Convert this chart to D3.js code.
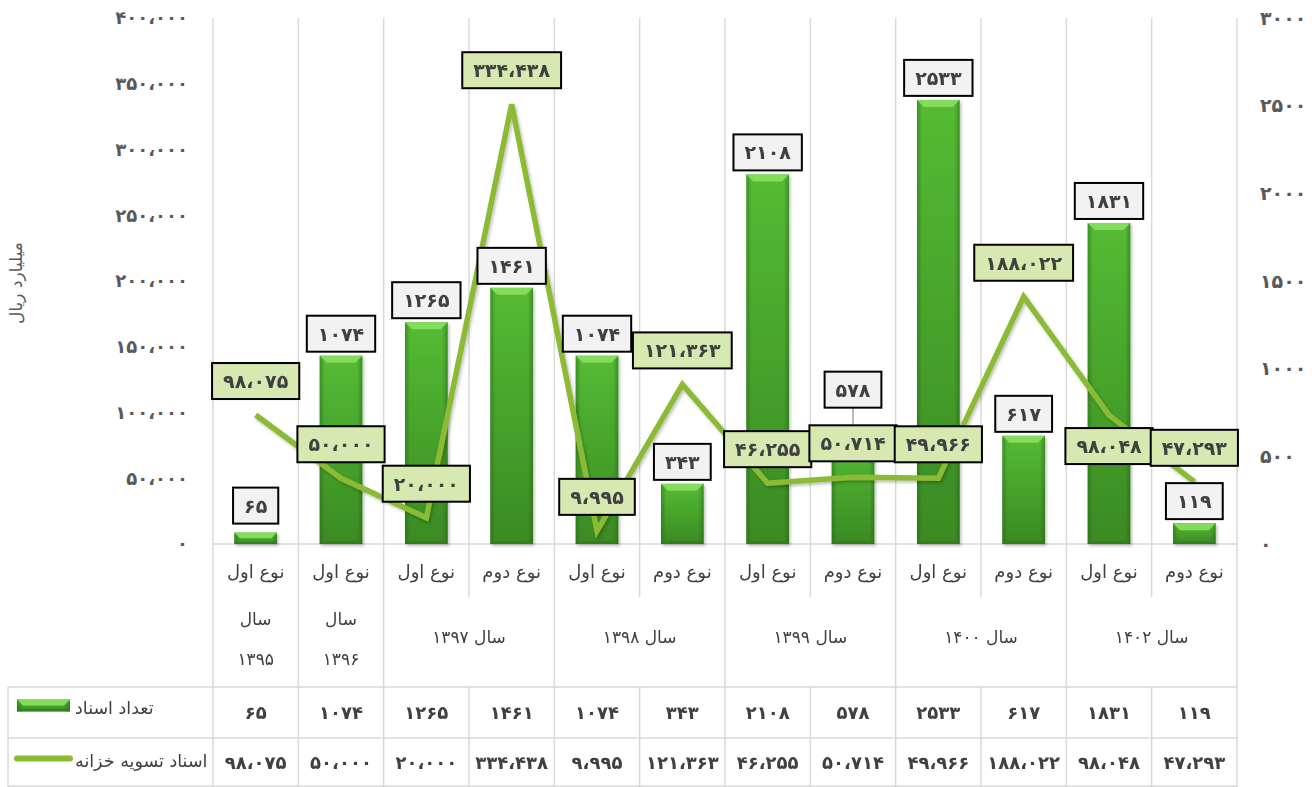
<!DOCTYPE html>
<html>
<head>
<meta charset="utf-8">
<script src="https://cdn.jsdelivr.net/npm/d3@7"></script>
<style>
  body { margin: 0; background: #fff; }
  text { font-family: "DejaVu Sans", sans-serif; }
</style>
</head>
<body>
<div id="chart"></div>
<script>
// chart data
let types = ['نوع اول', 'نوع اول', 'نوع اول', 'نوع دوم', 'نوع اول', 'نوع دوم',
             'نوع اول', 'نوع دوم', 'نوع اول', 'نوع دوم', 'نوع اول', 'نوع دوم']
let years = ['1395', '1396', '1397', '1397', '1398', '1398',
             '1399', '1399', '1400', '1400', '1402', '1402']
let counts = [65, 1074, 1265, 1461, 1074, 343, 2108, 578, 2533, 617, 1831, 119]
let amounts = [98075, 50000, 20000, 334438, 9995, 121363, 46255, 50714, 49966, 188022, 98048, 47293]
let leftTicks = [0, 50000, 100000, 150000, 200000, 250000, 300000, 350000, 400000]
let rightTicks = [0, 500, 1000, 1500, 2000, 2500, 3000]
let seriesNames = ['تعداد اسناد', 'اسناد تسویه خزانه']
let axisTitle = 'میلیارد ریال'

// layout
let width = 1316, height = 787
let plotLeft = 213, plotRight = 1237, plotTop = 18, plotBottom = 544
let catBottom = 597, yearBottom = 687, row1Bottom = 738, tableBottom = 787, tableLeft = 8
let gridColor = '#d9d9d9'
let textColor = '#404040'
let lineColor = '#8bba34'
// manual label nudges (from the reference)
let barLabelDy = { 0: -27, 7: -53 }
let lineLabelDy = { 10: 31 }

function fa(s) {
  return String(s).replace(/\d/g, d => '۰۱۲۳۴۵۶۷۸۹'[d]).replace(/,/g, '،')
}
let fmt = d3.format(',')

let svg = d3.select('#chart').append('svg')
  .attr('width', width)
  .attr('height', height)

let defs = svg.append('defs')
let grad = defs.append('linearGradient').attr('id', 'barGrad')
  .attr('x1', 0).attr('y1', 0).attr('x2', 0).attr('y2', 1)
grad.append('stop').attr('offset', '0%').attr('stop-color', '#55bb34')
grad.append('stop').attr('offset', '100%').attr('stop-color', '#3a8a23')
let side = defs.append('linearGradient').attr('id', 'barSide')
  .attr('x1', 0).attr('y1', 0).attr('x2', 1).attr('y2', 0)
side.append('stop').attr('offset', '0%').attr('stop-color', '#1f5c12').attr('stop-opacity', 0.45)
side.append('stop').attr('offset', '12%').attr('stop-color', '#1f5c12').attr('stop-opacity', 0)
side.append('stop').attr('offset', '88%').attr('stop-color', '#1f5c12').attr('stop-opacity', 0)
side.append('stop').attr('offset', '100%').attr('stop-color', '#1f5c12').attr('stop-opacity', 0.45)
let shadow = defs.append('filter').attr('id', 'shadow')
  .attr('x', '-10%').attr('y', '-10%').attr('width', '120%').attr('height', '130%')
shadow.append('feDropShadow').attr('dx', 1.5).attr('dy', 2).attr('stdDeviation', 1.5)
  .attr('flood-color', '#000').attr('flood-opacity', 0.25)

let x = d3.scaleBand().domain(d3.range(types.length)).range([plotLeft, plotRight])
let yL = d3.scaleLinear().domain([0, 400000]).range([plotBottom, plotTop])
let yR = d3.scaleLinear().domain([0, 3000]).range([plotBottom, plotTop])
let cx = i => x(i) + x.bandwidth() / 2
let barW = x.bandwidth() * 0.5

// vertical grid lines
let bounds = d3.range(types.length + 1).map(i => i < types.length ? x(i) : plotRight)
svg.append('g').selectAll('line').data(bounds).join('line')
  .attr('x1', d => d).attr('x2', d => d)
  .attr('y1', plotTop).attr('y2', plotBottom)
  .attr('stroke', gridColor).attr('stroke-width', 1.5)
svg.append('line')
  .attr('x1', plotLeft).attr('x2', plotRight)
  .attr('y1', plotBottom).attr('y2', plotBottom)
  .attr('stroke', gridColor).attr('stroke-width', 1.5)

// axes
let leftAxis = svg.append('g')
  .attr('transform', `translate(${plotLeft - 22},0)`)
  .call(d3.axisLeft(yL).tickValues(leftTicks).tickSize(0).tickFormat(d => fa(fmt(d))))
let rightAxis = svg.append('g')
  .attr('transform', `translate(${plotRight + 20},0)`)
  .call(d3.axisRight(yR).tickValues(rightTicks).tickSize(0).tickFormat(d => fa(d)))
;[leftAxis, rightAxis].forEach(a => {
  a.select('.domain').remove()
  a.selectAll('text')
    .attr('font-size', 19).attr('font-weight', 'bold')
    .attr('fill', '#595959')
    .style('font-family', '"DejaVu Sans", sans-serif')
})
leftAxis.selectAll('text').attr('font-size', 18)

svg.append('text')
  .attr('transform', `translate(22,${(plotTop + plotBottom) / 2 + 2}) rotate(-90)`)
  .attr('text-anchor', 'middle')
  .attr('direction', 'rtl')
  .attr('font-size', 17)
  .attr('fill', '#595959')
  .text(axisTitle)

// bars
function drawBar(g, x0, y0, w, h) {
  g.append('rect').attr('x', x0).attr('y', y0).attr('width', w).attr('height', h)
    .attr('fill', 'url(#barGrad)')
  g.append('rect').attr('x', x0).attr('y', y0).attr('width', w).attr('height', h)
    .attr('fill', 'url(#barSide)')
  let b = Math.min(7, h / 2)
  g.append('path')
    .attr('d', `M${x0},${y0}L${x0 + w},${y0}L${x0 + w - b},${y0 + b}L${x0 + b},${y0 + b}Z`)
    .attr('fill', '#84db5c')
  g.append('path')
    .attr('d', `M${x0},${y0 + h}L${x0 + w},${y0 + h}L${x0 + w - b},${y0 + h - b * 0.4}L${x0 + b},${y0 + h - b * 0.4}Z`)
    .attr('fill', '#2d7019').attr('opacity', 0.5)
}
let barG = svg.append('g').attr('filter', 'url(#shadow)')
counts.forEach((c, i) => {
  drawBar(barG.append('g'), cx(i) - barW / 2, yR(c), barW, plotBottom - yR(c))
})

// line
svg.append('path')
  .datum(amounts)
  .attr('d', d3.line().x((d, i) => cx(i)).y(d => yL(d)))
  .attr('fill', 'none')
  .attr('stroke', lineColor)
  .attr('stroke-width', 5.5)
  .attr('stroke-linejoin', 'miter')
  .attr('filter', 'url(#shadow)')

// data labels
function label(g, px, py, txt, fill) {
  let t = g.append('text')
    .attr('x', px).attr('y', py)
    .attr('text-anchor', 'middle')
    .attr('dominant-baseline', 'central')
    .attr('font-size', 19).attr('font-weight', 'bold')
    .attr('fill', textColor)
    .text(txt)
  let w = t.node().getComputedTextLength() + 22
  g.insert('rect', 'text')
    .attr('x', px - w / 2).attr('y', py - 18)
    .attr('width', w).attr('height', 36)
    .attr('fill', fill).attr('stroke', '#000').attr('stroke-width', 2)
}

// leader line for the moved label
counts.forEach((c, i) => {
  if (barLabelDy[i] !== undefined && barLabelDy[i] < -40) {
    svg.append('line')
      .attr('x1', cx(i)).attr('x2', cx(i))
      .attr('y1', yR(c) + barLabelDy[i] + 18).attr('y2', yR(c) - 4)
      .attr('stroke', '#a6a6a6').attr('stroke-width', 1.5)
  }
})

let labG = svg.append('g')
counts.forEach((c, i) => {
  let dy = barLabelDy[i] !== undefined ? barLabelDy[i] : -22
  label(labG.append('g'), cx(i), yR(c) + dy, fa(c), '#f2f2f2')
})
amounts.forEach((a, i) => {
  let dy = lineLabelDy[i] !== undefined ? lineLabelDy[i] : -34
  label(labG.append('g'), cx(i), yL(a) + dy, fa(fmt(a)), '#d7e8b1')
})

// category rows under the plot
let catG = svg.append('g')
types.forEach((t, i) => {
  catG.append('text')
    .attr('x', cx(i)).attr('y', 571)
    .attr('text-anchor', 'middle')
    .attr('dominant-baseline', 'central')
    .attr('direction', 'rtl')
    .attr('font-size', 18)
    .attr('fill', textColor)
    .text(t)
})

// year groups
let groups = []
years.forEach((y, i) => {
  let last = groups[groups.length - 1]
  if (last && last.year === y) last.end = i
  else groups.push({ year: y, start: i, end: i })
})
let sepG = svg.append('g').attr('stroke', gridColor).attr('stroke-width', 1.5)
bounds.forEach((b, k) => {
  let isGroup = k === 0 || k === types.length || groups.some(g => g.start === k)
  sepG.append('line')
    .attr('x1', b).attr('x2', b)
    .attr('y1', plotBottom).attr('y2', isGroup ? tableBottom : catBottom)
  if (!isGroup) {
    sepG.append('line')
      .attr('x1', b).attr('x2', b)
      .attr('y1', yearBottom).attr('y2', tableBottom)
  }
})
groups.forEach(g => {
  let gx = (x(g.start) + x(g.end) + x.bandwidth()) / 2
  if (g.start === g.end) {
    catG.append('text')
      .attr('x', gx).attr('y', 619)
      .attr('text-anchor', 'middle').attr('dominant-baseline', 'central')
      .attr('direction', 'rtl').attr('font-size', 17).attr('fill', textColor)
      .text('سال')
    catG.append('text')
      .attr('x', gx).attr('y', 659)
      .attr('text-anchor', 'middle').attr('dominant-baseline', 'central')
      .attr('font-size', 17).attr('fill', textColor)
      .text(fa(g.year))
  } else {
    catG.append('text')
      .attr('x', gx).attr('y', 637)
      .attr('text-anchor', 'middle').attr('dominant-baseline', 'central')
      .attr('direction', 'rtl').attr('font-size', 17).attr('fill', textColor)
      .text('سال ' + fa(g.year))
  }
})

// data table
let tab = svg.append('g')
;[yearBottom, row1Bottom, tableBottom - 1].forEach(yy => {
  tab.append('line')
    .attr('x1', tableLeft).attr('x2', plotRight)
    .attr('y1', yy).attr('y2', yy)
    .attr('stroke', gridColor).attr('stroke-width', 1.5)
})
tab.append('line')
  .attr('x1', tableLeft).attr('x2', tableLeft)
  .attr('y1', yearBottom).attr('y2', tableBottom)
  .attr('stroke', gridColor).attr('stroke-width', 1.5)

let row1Y = (yearBottom + row1Bottom) / 2
let row2Y = (row1Bottom + tableBottom) / 2
let rows = [counts.map(c => fa(c)), amounts.map(a => fa(fmt(a)))]
rows.forEach((r, k) => {
  r.forEach((v, i) => {
    tab.append('text')
      .attr('x', cx(i)).attr('y', k === 0 ? row1Y : row2Y)
      .attr('text-anchor', 'middle').attr('dominant-baseline', 'central')
      .attr('font-size', 18).attr('font-weight', 'bold')
      .attr('fill', textColor)
      .text(v)
  })
})

// legend keys inside the table
drawBar(tab.append('g'), 17, row1Y - 13, 53, 12)
tab.append('text')
  .attr('x', 75).attr('y', row1Y - 5)
  .attr('text-anchor', 'start').attr('dominant-baseline', 'central')
  .attr('font-size', 17.5).attr('fill', textColor)
  .text(seriesNames[0])
tab.append('line')
  .attr('x1', 17).attr('x2', 70)
  .attr('y1', row2Y - 4).attr('y2', row2Y - 4)
  .attr('stroke', lineColor).attr('stroke-width', 6).attr('stroke-linecap', 'round')
tab.append('text')
  .attr('x', 75).attr('y', row2Y - 2)
  .attr('text-anchor', 'start').attr('dominant-baseline', 'central')
  .attr('font-size', 17.5).attr('fill', textColor)
  .text(seriesNames[1])
</script>
</body>
</html>
